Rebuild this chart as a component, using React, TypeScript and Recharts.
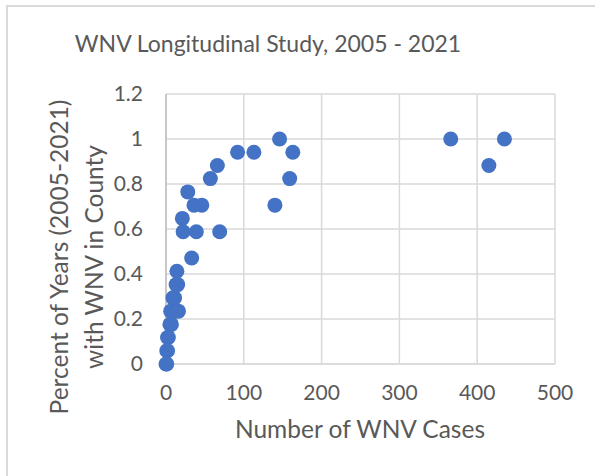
import { ScatterChart, Scatter, XAxis, YAxis, CartesianGrid } from "recharts";

// number of WNV cases per county, 2005-2021
const caseCounts = [
  366, 435, 415, 146, 92, 113, 163, 66, 57, 159, 28, 36, 46, 140, 21, 22, 39, 69, 33,
  14, 13, 15, 9, 11, 6, 11, 16, 5, 7, 3, 2, 1, 2, 0, 1,
];
// share of years (out of 17) with WNV in the county
const yearShares = [
  1, 1, 0.882, 1, 0.941, 0.941, 0.941, 0.882, 0.824, 0.824, 0.765, 0.706, 0.706, 0.706, 0.647, 0.588, 0.588, 0.588, 0.471,
  0.412, 0.353, 0.353, 0.294, 0.294, 0.235, 0.235, 0.235, 0.176, 0.176, 0.118, 0.118, 0.059, 0.059, 0, 0,
];
const xTicks = [0, 100, 200, 300, 400, 500];
const yTicks = [0, 0.2, 0.4, 0.6, 0.8, 1, 1.2];

const points = caseCounts.map((c, i) => ({ cases: c, share: yearShares[i] }));

const FONT = "Lato, 'Open Sans', sans-serif";
const TEXT = "#595959";

const Dot = (props: any) => <circle cx={props.cx} cy={props.cy} r={7.5} fill="#4472C4" />;

export default function App() {
  return (
    <div style={{ position: "absolute", left: 0, top: 0, width: 595, height: 476, background: "#fff", fontFamily: FONT, overflow: "hidden" }}>
      <div style={{ position: "absolute", left: 6, top: 5, width: 620, height: 500, borderLeft: "2px solid #d9d9d9", borderTop: "2px solid #d9d9d9" }} />
      <div style={{ position: "absolute", left: 0, width: 536, top: 29, textAlign: "center", fontSize: 23, color: TEXT, whiteSpace: "nowrap" }}>
        WNV Longitudinal Study, 2005 - 2021
      </div>
      <div
        style={{
          position: "absolute", left: 76, top: 257, width: 0, height: 0,
        }}
      >
        <div
          style={{
            position: "absolute", left: 0, top: 0, transform: "translate(-50%, -50%) rotate(-90deg)",
            textAlign: "center", fontSize: 24.5, lineHeight: "35px", color: TEXT, whiteSpace: "nowrap",
          }}
        >
          Percent of Years (2005-2021)
          <br />
          with WNV in County
        </div>
      </div>
      <div style={{ position: "absolute", left: 160, width: 400, top: 414, textAlign: "center", fontSize: 24.5, color: TEXT, whiteSpace: "nowrap" }}>
        Number of WNV Cases
      </div>
      <div style={{ position: "absolute", left: 0, top: 0 }}>
        <ScatterChart width={595} height={476} margin={{ top: 94, right: 40, bottom: 72, left: 86 }}>
          <CartesianGrid stroke="#d9d9d9" strokeWidth={1.5} />
          <XAxis
            type="number"
            dataKey="cases"
            domain={[0, 500]}
            ticks={xTicks}
            height={40}
            tickSize={0}
            tickMargin={21}
            axisLine={{ stroke: "#d9d9d9", strokeWidth: 1.5 }}
            tick={{ fill: TEXT, fontSize: 21, fontFamily: FONT }}
          />
          <YAxis
            type="number"
            dataKey="share"
            domain={[0, 1.2]}
            ticks={yTicks}
            width={80}
            tickSize={0}
            tickMargin={23}
            axisLine={{ stroke: "#bfbfbf", strokeWidth: 1.5 }}
            tick={{ fill: TEXT, fontSize: 21, fontFamily: FONT }}
          />
          <Scatter data={points} shape={Dot} isAnimationActive={false} />
        </ScatterChart>
      </div>
    </div>
  );
}
